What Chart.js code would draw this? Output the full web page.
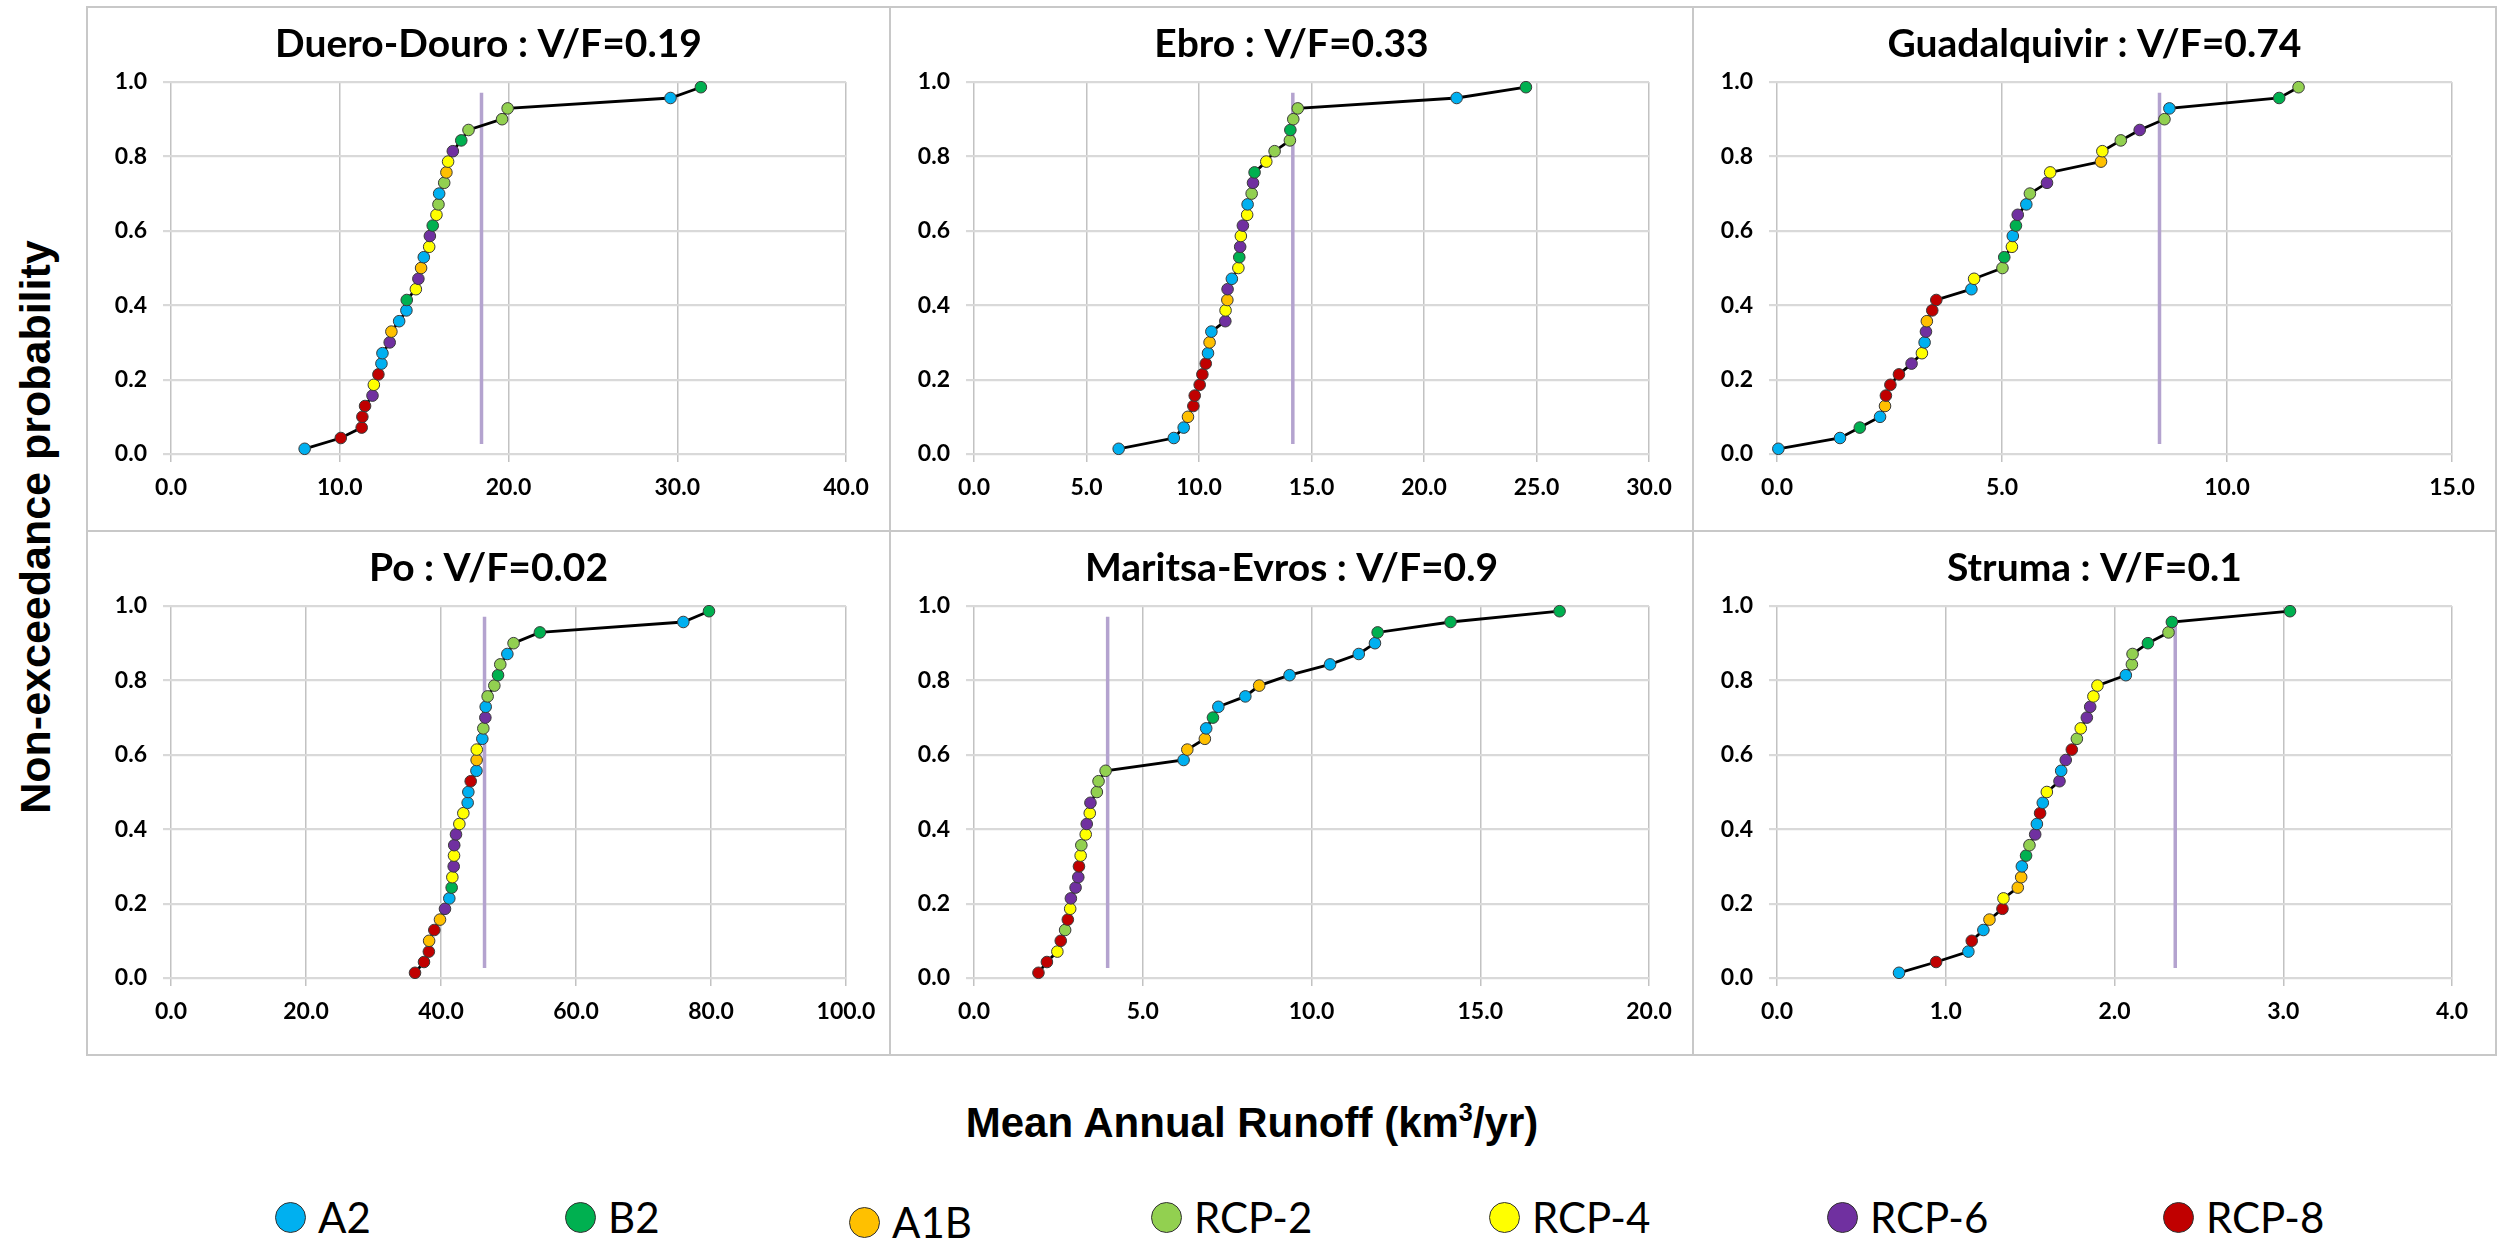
<!DOCTYPE html>
<html>
<head>
<meta charset="utf-8">
<title>Mean Annual Runoff - non-exceedance probability</title>
<script src="https://cdn.jsdelivr.net/npm/chart.js@4.4.1/dist/chart.umd.min.js"></script>
<style>
  body { margin: 0; background: #fff; }
  #page { position: relative; width: 2498px; height: 1239px; overflow: hidden; background: #fff; }
  .panel { position: absolute; width: 803px; height: 524px; }
  .rule { position: absolute; background: #c8c8c8; }
  #ytitle { position: absolute; left: 35px; top: 527px; transform: translate(-50%, -50%) rotate(-90deg);
            font: bold 43px "Liberation Sans", Arial, sans-serif; white-space: nowrap; line-height: 1; }
  #xtitle { position: absolute; left: 1252px; top: 1123px; transform: translate(-50%, -50%);
            font: bold 42px "Liberation Sans", Arial, sans-serif; white-space: nowrap; line-height: 1; }
  #xtitle sup { font-size: 60%; vertical-align: 0.65em; line-height: 0; }
  .item { position: absolute; display: flex; align-items: center; height: 42px; white-space: nowrap; }
  .dot { width: 29px; height: 29px; border-radius: 50%; border: 1.5px solid #333; box-sizing: content-box; }
  .lbl { margin-left: 12px; font: 42px Lato, sans-serif; line-height: 1; color: #000; }
</style>
</head>
<body>
<div id="page">
  <div class="rule" style="left:87px; top:6px; width:2410px; height:2px"></div>
  <div class="rule" style="left:87px; top:530px; width:2410px; height:2px"></div>
  <div class="rule" style="left:87px; top:1054px; width:2410px; height:2px"></div>
  <div class="rule" style="left:86px; top:6px; width:2px; height:1050px"></div>
  <div class="rule" style="left:889px; top:6px; width:2px; height:1050px"></div>
  <div class="rule" style="left:1692px; top:6px; width:2px; height:1050px"></div>
  <div class="rule" style="left:2495px; top:6px; width:2px; height:1050px"></div>

  <div class="panel" style="left:87px; top:7px"><canvas id="c0"></canvas></div>
  <div class="panel" style="left:890px; top:7px"><canvas id="c1"></canvas></div>
  <div class="panel" style="left:1693px; top:7px"><canvas id="c2"></canvas></div>
  <div class="panel" style="left:87px; top:531px"><canvas id="c3"></canvas></div>
  <div class="panel" style="left:890px; top:531px"><canvas id="c4"></canvas></div>
  <div class="panel" style="left:1693px; top:531px"><canvas id="c5"></canvas></div>

  <div id="ytitle">Non-exceedance probability</div>
  <div id="xtitle">Mean Annual Runoff (km<sup>3</sup>/yr)</div>
  <div id="legend"></div>
</div>

<script>
// escenarios y colores
const scenarioCodes = ['A2', 'B2', 'A1B', 'R2', 'R4', 'R6', 'R8'];
const scenarioLabels = ['A2', 'B2', 'A1B', 'RCP-2', 'RCP-4', 'RCP-6', 'RCP-8'];
const scenarioColors = ['#00b0f0', '#00b050', '#ffc000', '#92d050', '#ffff00', '#7030a0', '#c00000'];

// probabilidad de no excedencia (eje y), igual en los seis paneles
const probability = [0.014, 0.043, 0.071, 0.100, 0.129, 0.157, 0.186, 0.214, 0.243, 0.271,
                     0.300, 0.329, 0.357, 0.386, 0.414, 0.443, 0.471, 0.500, 0.529, 0.557,
                     0.586, 0.614, 0.643, 0.671, 0.700, 0.729, 0.757, 0.786, 0.814, 0.843,
                     0.871, 0.900, 0.929, 0.957, 0.986];

const basins = ['Duero-Douro', 'Ebro', 'Guadalquivir', 'Po', 'Maritsa-Evros', 'Struma'];
const vfRatio = ['0.19', '0.33', '0.74', '0.02', '0.9', '0.1'];
const xMax = [40, 30, 15, 100, 20, 4];
const xStep = [10, 5, 5, 20, 5, 1];
const refRunoff = [18.4, 14.17, 8.5, 46.45, 3.96, 2.36]; // linea vertical
const refSpan = [0.027, 0.971];

// escorrentia media anual (km3/yr), ordenada
const dueroRunoff = [7.92, 10.06, 11.30, 11.34, 11.50, 11.94, 12.02, 12.29, 12.47, 12.53,
                     12.96, 13.06, 13.52, 13.95, 13.97, 14.51, 14.66, 14.82, 14.98, 15.30,
                     15.34, 15.51, 15.73, 15.85, 15.89, 16.19, 16.32, 16.42, 16.70, 17.20,
                     17.63, 19.62, 19.95, 29.6, 31.4];
const dueroScen = ['A2', 'R8', 'R8', 'R8', 'R8', 'R6', 'R4', 'R8', 'A2', 'A2',
                   'R6', 'A1B', 'A2', 'A2', 'B2', 'R4', 'R6', 'A1B', 'A2', 'R4',
                   'R6', 'B2', 'R4', 'R2', 'A2', 'R2', 'A1B', 'R4', 'R6', 'B2',
                   'R2', 'R2', 'R2', 'A2', 'B2'];

const ebroRunoff = [6.43, 8.88, 9.32, 9.51, 9.75, 9.81, 10.03, 10.15, 10.30, 10.40,
                    10.47, 10.55, 11.17, 11.18, 11.26, 11.27, 11.46, 11.75, 11.79, 11.83,
                    11.86, 11.95, 12.14, 12.16, 12.34, 12.40, 12.47, 12.99, 13.36, 14.04,
                    14.06, 14.19, 14.39, 21.45, 24.53];
const ebroScen = ['A2', 'A2', 'A2', 'A1B', 'R8', 'R8', 'R8', 'R8', 'R8', 'A2',
                  'A1B', 'A2', 'R6', 'R4', 'A1B', 'R6', 'A2', 'R4', 'B2', 'R6',
                  'R4', 'R6', 'R4', 'A2', 'R2', 'R6', 'B2', 'R4', 'R2', 'R2',
                  'B2', 'R2', 'R2', 'A2', 'B2'];

const guadRunoff = [0.03, 1.40, 1.84, 2.29, 2.40, 2.42, 2.52, 2.71, 2.99, 3.22,
                    3.28, 3.31, 3.33, 3.45, 3.54, 4.32, 4.38, 5.01, 5.05, 5.22,
                    5.24, 5.31, 5.35, 5.54, 5.62, 6.00, 6.07, 7.20, 7.23, 7.64,
                    8.06, 8.61, 8.72, 11.16, 11.59];
const guadScen = ['A2', 'A2', 'B2', 'A2', 'A1B', 'R8', 'R8', 'R8', 'R6', 'R4',
                  'A2', 'R6', 'A1B', 'R8', 'R8', 'A2', 'R4', 'R2', 'B2', 'R4',
                  'A2', 'B2', 'R6', 'A2', 'R2', 'R6', 'R4', 'A1B', 'R4', 'R2',
                  'R6', 'R2', 'A2', 'B2', 'R2'];

const poRunoff = [36.15, 37.48, 38.20, 38.24, 39.01, 39.85, 40.59, 41.23, 41.58, 41.68,
                  41.88, 41.93, 41.96, 42.22, 42.72, 43.31, 43.95, 44.05, 44.40, 45.25,
                  45.28, 45.30, 46.12, 46.27, 46.57, 46.62, 46.91, 47.90, 48.45, 48.78,
                  49.83, 50.75, 54.65, 75.9, 79.7];
const poScen = ['R8', 'R8', 'R8', 'A1B', 'R8', 'A1B', 'R6', 'A2', 'B2', 'R4',
                'R6', 'R4', 'R6', 'R6', 'R4', 'R4', 'A2', 'A2', 'R8', 'A2',
                'A1B', 'R4', 'A2', 'R2', 'R6', 'A2', 'R2', 'R2', 'B2', 'R2',
                'A2', 'R2', 'B2', 'A2', 'B2'];

const maritsaRunoff = [1.91, 2.16, 2.47, 2.57, 2.70, 2.78, 2.85, 2.87, 3.01, 3.09,
                       3.11, 3.16, 3.18, 3.31, 3.34, 3.43, 3.45, 3.64, 3.69, 3.90,
                       6.21, 6.32, 6.84, 6.88, 7.08, 7.24, 8.04, 8.45, 9.35, 10.55,
                       11.40, 11.88, 11.96, 14.12, 17.35];
const maritsaScen = ['R8', 'R8', 'R4', 'R8', 'R2', 'R8', 'R4', 'R6', 'R6', 'R6',
                     'R8', 'R4', 'R2', 'R4', 'R6', 'R4', 'R6', 'R2', 'R2', 'R2',
                     'A2', 'A1B', 'A1B', 'A2', 'B2', 'A2', 'A2', 'A1B', 'A2', 'A2',
                     'A2', 'A2', 'B2', 'B2', 'B2'];

const strumaRunoff = [0.723, 0.943, 1.134, 1.154, 1.223, 1.259, 1.336, 1.342, 1.427, 1.447,
                      1.451, 1.476, 1.496, 1.530, 1.540, 1.559, 1.575, 1.599, 1.674, 1.684,
                      1.711, 1.747, 1.777, 1.800, 1.836, 1.856, 1.875, 1.899, 2.067, 2.103,
                      2.107, 2.198, 2.320, 2.340, 3.04];
const strumaScen = ['A2', 'R8', 'A2', 'R8', 'A2', 'A1B', 'R8', 'R4', 'A1B', 'A1B',
                    'A2', 'B2', 'R2', 'R6', 'A2', 'R8', 'A2', 'R4', 'R6', 'A2',
                    'R6', 'R8', 'R2', 'R4', 'R6', 'R6', 'R4', 'R4', 'A2', 'R2',
                    'R2', 'B2', 'R2', 'B2', 'B2'];

const runoffs = [dueroRunoff, ebroRunoff, guadRunoff, poRunoff, maritsaRunoff, strumaRunoff];
const scens = [dueroScen, ebroScen, guadScen, poScen, maritsaScen, strumaScen];

// posiciones de la leyenda (centro del marcador)
const legendX = [291, 581, 865, 1167, 1505, 1843, 2179];
const legendY = [1217, 1217, 1222, 1217, 1217, 1217, 1217];

const colorOf = (code) => scenarioColors[scenarioCodes.indexOf(code)];

// titulo centrado en el panel
const panelTitle = {
    id: 'panelTitle',
    afterDraw(chart, args, opts) {
        const ctx = chart.ctx;
        ctx.save();
        ctx.font = 'bold 39px Lato';
        ctx.fillStyle = '#000';
        ctx.textAlign = 'center';
        ctx.textBaseline = 'alphabetic';
        ctx.fillText(opts.text, chart.width / 2, 50);
        ctx.restore();
    }
};
Chart.register(panelTitle);

const tickFont = { family: 'Lato', size: 23, weight: 'bold' };

const renderPanel = (i) => {
    const points = runoffs[i].map((x, k) => ({ x: x, y: probability[k] }));
    const data = {
        datasets: [{
            data: points,
            showLine: true,
            borderColor: '#000',
            borderWidth: 2.8,
            pointRadius: 5.8,
            pointHoverRadius: 5.8,
            pointBackgroundColor: scens[i].map(colorOf),
            pointBorderColor: '#3a3a3a',
            pointBorderWidth: 1,
            clip: false,
            order: 0
        }, {
            data: [{ x: refRunoff[i], y: refSpan[0] }, { x: refRunoff[i], y: refSpan[1] }],
            showLine: true,
            borderColor: '#b4a3cf',
            borderWidth: 3.5,
            pointRadius: 0,
            order: 1
        }]
    };

    const options = {
        responsive: true,
        maintainAspectRatio: false,
        animation: false,
        layout: { padding: { top: 75, right: 44, bottom: 0, left: 0 } },
        plugins: {
            legend: { display: false },
            tooltip: { enabled: false },
            panelTitle: { text: basins[i] + ' : V/F=' + vfRatio[i] }
        },
        scales: {
            x: {
                type: 'linear', min: 0, max: xMax[i],
                afterFit: (s) => { s.height = 77; },
                ticks: { stepSize: xStep[i], callback: (v) => v.toFixed(1), font: tickFont, color: '#000',
                         padding: 12, maxRotation: 0, autoSkip: false },
                grid: { color: '#c2c2c2', lineWidth: 1.5, tickLength: 8, tickColor: '#c2c2c2' },
                border: { display: false }
            },
            y: {
                min: 0, max: 1,
                afterFit: (s) => { s.width = 84; },
                ticks: { stepSize: 0.2, callback: (v) => v.toFixed(1), font: tickFont, color: '#000', padding: 16 },
                grid: { color: '#d9d9d9', lineWidth: 2.2, tickLength: 8, tickColor: '#d9d9d9' },
                border: { display: false }
            }
        }
    };
    new Chart('c' + i, { type: 'scatter', data, options });
};

const renderLegend = () => {
    const box = document.getElementById('legend');
    scenarioLabels.forEach((label, k) => {
        const item = document.createElement('div');
        item.className = 'item';
        item.style.left = (legendX[k] - 16) + 'px';
        item.style.top = (legendY[k] - 21) + 'px';
        item.innerHTML = '<span class="dot" style="background:' + scenarioColors[k] + '"></span>' +
                         '<span class="lbl">' + label + '</span>';
        box.appendChild(item);
    });
};

const printCharts = () => {
    for (let i = 0; i < 6; i++) renderPanel(i);
    renderLegend();
};

Promise.all([document.fonts.load('bold 23px Lato'), document.fonts.load('bold 39px Lato'), document.fonts.load('42px Lato')])
    .then(printCharts, printCharts);
</script>
</body>
</html>
